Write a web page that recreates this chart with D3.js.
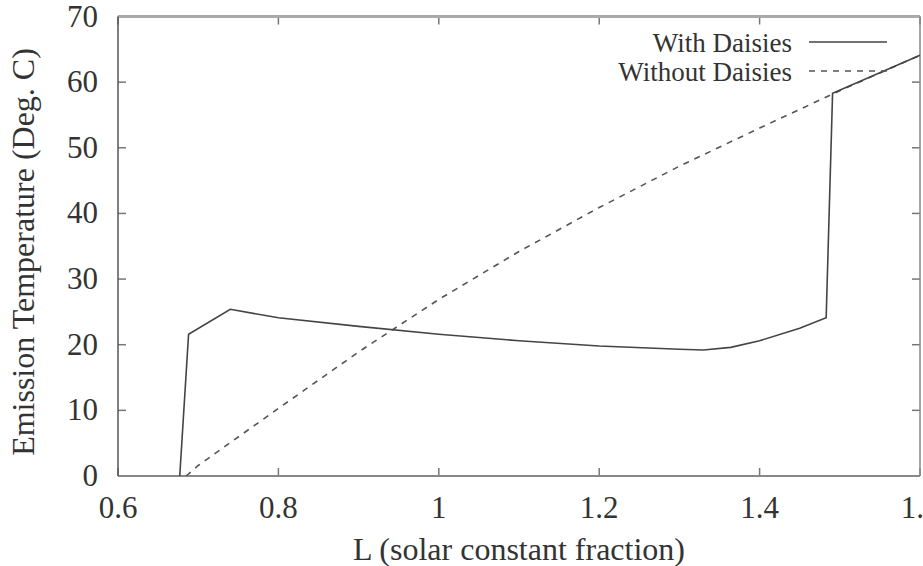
<!DOCTYPE html>
<html>
<head>
<meta charset="utf-8">
<title>Daisyworld emission temperature</title>
<script src="https://cdn.jsdelivr.net/npm/d3@7"></script>
<style>
  body { margin: 0; background: #fff; }
  svg { display: block; }
</style>
</head>
<body>
<script>

// x values (L, solar constant fraction) and temperatures
const withL = [0.677, 0.688, 0.74, 0.8, 0.9, 1.0, 1.1, 1.2, 1.3, 1.33, 1.364, 1.4, 1.45, 1.483, 1.491, 1.6]
const withT = [0, 21.6, 25.4, 24.1, 22.8, 21.6, 20.6, 19.8, 19.3, 19.2, 19.6, 20.6, 22.5, 24.1, 58.3, 64.1]

const withoutL = [0.685, 0.7, 0.8, 0.9, 1.0, 1.1, 1.2, 1.3, 1.4, 1.5, 1.6]
const withoutT = [0, 1.6, 10.3, 18.9, 26.9, 34.2, 40.9, 47.2, 53.0, 58.7, 64.1]

const xTicks = [0.6, 0.8, 1.0, 1.2, 1.4, 1.6]
const yTicks = [0, 10, 20, 30, 40, 50, 60, 70]
const legendNames = ["With Daisies", "Without Daisies"]

const serif = "'Liberation Serif', Tinos, 'Times New Roman', Times, 'DejaVu Serif', serif"

window.onload = function() {

  // SVG width and height
  const w = 923;
  const h = 566;
  const margin = {left: 118, right: 3, top: 16.5, bottom: 90};

  const svg = d3.select("body")
                .append("svg")
                .attr("width", w)
                .attr("height", h)
                .attr("font-family", serif)
                .attr("fill", "#333");

  const x = d3.scaleLinear()
              .domain([0.6, 1.6])
              .range([margin.left, w - margin.right]);

  const y = d3.scaleLinear()
              .domain([0, 70])
              .range([h - margin.bottom, margin.top]);

  const x0 = x.range()[0], x1 = x.range()[1];
  const y0 = y.range()[0], y1 = y.range()[1];

  // tick marks on all four sides, pointing inward
  const tickLen = 8;
  xTicks.forEach(function(t) {
    svg.append("line").attr("x1", x(t)).attr("x2", x(t))
       .attr("y1", y0).attr("y2", y0 - tickLen)
       .attr("stroke", "#777").attr("stroke-width", 1.5);
    svg.append("line").attr("x1", x(t)).attr("x2", x(t))
       .attr("y1", y1).attr("y2", y1 + tickLen)
       .attr("stroke", "#777").attr("stroke-width", 1.5);
  })
  yTicks.forEach(function(t) {
    svg.append("line").attr("x1", x0).attr("x2", x0 + tickLen)
       .attr("y1", y(t)).attr("y2", y(t))
       .attr("stroke", "#777").attr("stroke-width", 1.5);
    svg.append("line").attr("x1", x1).attr("x2", x1 - tickLen)
       .attr("y1", y(t)).attr("y2", y(t))
       .attr("stroke", "#777").attr("stroke-width", 1.5);
  })

  // frame
  svg.append("line").attr("x1", x0).attr("x2", x1).attr("y1", y1).attr("y2", y1)
     .attr("stroke", "#aaa").attr("stroke-width", 3);
  svg.append("line").attr("x1", x0).attr("x2", x1).attr("y1", y0).attr("y2", y0)
     .attr("stroke", "#888").attr("stroke-width", 2);
  svg.append("line").attr("x1", x0).attr("x2", x0).attr("y1", y0).attr("y2", y1)
     .attr("stroke", "#555").attr("stroke-width", 1.5);
  svg.append("line").attr("x1", x1).attr("x2", x1).attr("y1", y0).attr("y2", y1)
     .attr("stroke", "#888").attr("stroke-width", 1.5);

  // tick labels
  svg.selectAll(".xlab")
     .data(xTicks)
     .enter()
     .append("text")
     .attr("x", function(d) { return x(d); })
     .attr("y", 518)
     .attr("text-anchor", "middle")
     .attr("font-size", 31)
     .text(function(d) { return String(+d.toFixed(1)); });

  svg.selectAll(".ylab")
     .data(yTicks)
     .enter()
     .append("text")
     .attr("x", 98)
     .attr("y", function(d) { return y(d) + 10; })
     .attr("text-anchor", "end")
     .attr("font-size", 31)
     .text(function(d) { return d; });

  // axis titles
  svg.append("text")
     .attr("x", (x0 + x1) / 2)
     .attr("y", 560)
     .attr("text-anchor", "middle")
     .attr("font-size", 32)
     .text("L (solar constant fraction)");

  svg.append("text")
     .attr("transform", "translate(34," + 252 + ") rotate(-90)")
     .attr("text-anchor", "middle")
     .attr("font-size", 32)
     .text("Emission Temperature (Deg. C)");

  const line = d3.line()
                 .x(function(d) { return x(d[0]); })
                 .y(function(d) { return y(d[1]); });

  const withData = d3.zip(withL, withT);
  const withoutData = d3.zip(withoutL, withoutT);
  console.log(withData, withoutData)

  svg.append("path")
     .datum(withoutData)
     .attr("d", line)
     .attr("fill", "none")
     .attr("stroke", "#555")
     .attr("stroke-width", 1.6)
     .attr("stroke-dasharray", "6,6");

  svg.append("path")
     .datum(withData)
     .attr("d", line)
     .attr("fill", "none")
     .attr("stroke", "#444")
     .attr("stroke-width", 1.6);

  // legend (top right, inside the frame)
  const legendY = [42, 71];
  legendNames.forEach(function(name, i) {
    svg.append("text")
       .attr("x", 792)
       .attr("y", legendY[i] + 10)
       .attr("text-anchor", "end")
       .attr("font-size", 27)
       .text(name);
    svg.append("line")
       .attr("x1", 809).attr("x2", 887)
       .attr("y1", legendY[i]).attr("y2", legendY[i])
       .attr("stroke", i == 0 ? "#444" : "#555")
       .attr("stroke-width", 1.6)
       .attr("stroke-dasharray", i == 0 ? null : "6,6");
  })
};
</script>
</body>
</html>
